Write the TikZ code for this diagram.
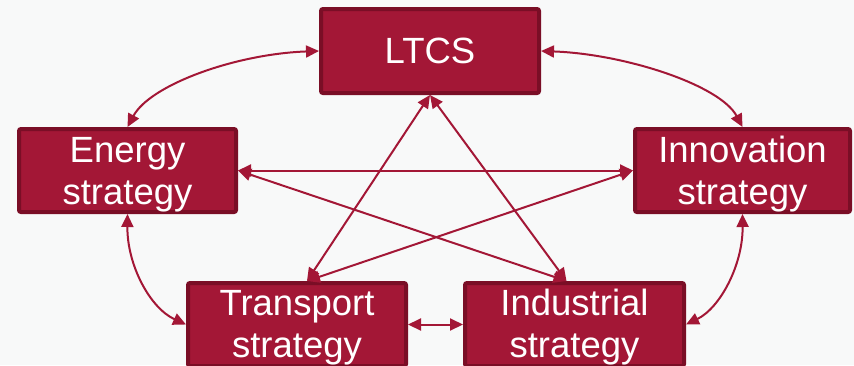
\documentclass[tikz,border=0pt]{standalone}
\usepackage{fontspec}
\setmainfont{Liberation Sans}
\usetikzlibrary{arrows.meta}
\definecolor{boxfill}{HTML}{A31736}
\definecolor{boxedge}{HTML}{7A0E26}
\definecolor{bg}{HTML}{F8F9F9}
\begin{document}
\begin{tikzpicture}[x=1pt,y=-1pt,
  sbox/.style={rectangle, fill=boxfill, draw=boxedge, line width=4pt, rounded corners=2pt},
  stext/.style={text=white, align=center, inner sep=0pt,
    font=\fontsize{36.5}{42}\selectfont},
  link/.style={draw=boxfill, line width=2pt,
    {Triangle[length=13pt,width=12pt]}-{Triangle[length=13pt,width=12pt]}}
]
\useasboundingbox (0,0) rectangle (854,365);
\clip (0,0) rectangle (854,365);
\fill[bg] (0,0) rectangle (854,365);

\node[sbox, minimum width=218pt, minimum height=84pt] (ltcs) at (430,51) {};
\node[sbox, minimum width=217pt, minimum height=83pt] (energy) at (127.5,170.5) {};
\node[sbox, minimum width=215pt, minimum height=83pt] (innov) at (742.5,170.5) {};
\node[sbox, minimum width=218pt, minimum height=83pt] (transport) at (297,324.5) {};
\node[sbox, minimum width=219pt, minimum height=83pt] (industrial) at (574.5,324.5) {};

\node[stext] (ltcsT) at (ltcs.center) {LTCS};
\node[stext] (energyT) at ([yshift=-4pt]energy.center) {Energy\\strategy};
\node[stext] (innovT) at ([yshift=-4pt]innov.center) {Innovation\\strategy};
\node[stext] (transportT) at ([yshift=-3pt]transport.center) {Transport\\strategy};
\node[stext] (industrialT) at ([yshift=-3pt]industrial.center) {Industrial\\strategy};

\coordinate (tt) at ([xshift=10pt]transport.north);
\coordinate (it) at ([xshift=-8pt]industrial.north);

% curved links
\draw[link] (ltcs.west) .. controls (235,54) and (150,85) .. (energy.north);
\draw[link] (ltcs.east) .. controls (625,54) and (720,85) .. (innov.north);
\draw[link] (energy.south) .. controls (127,265) and (150,308) .. (transport.west);
\draw[link] (innov.south) .. controls (743,265) and (720,308) .. (industrial.east);

% straight links
\draw[link] (energy.east) -- (innov.west);
\draw[link] (energy.east) -- (it);
\draw[link] (innov.west) -- (tt);
\draw[link] (ltcs.south) -- (tt);
\draw[link] (ltcs.south) -- (it);
\draw[link] (transport.east) -- (industrial.west);
\end{tikzpicture}
\end{document}
